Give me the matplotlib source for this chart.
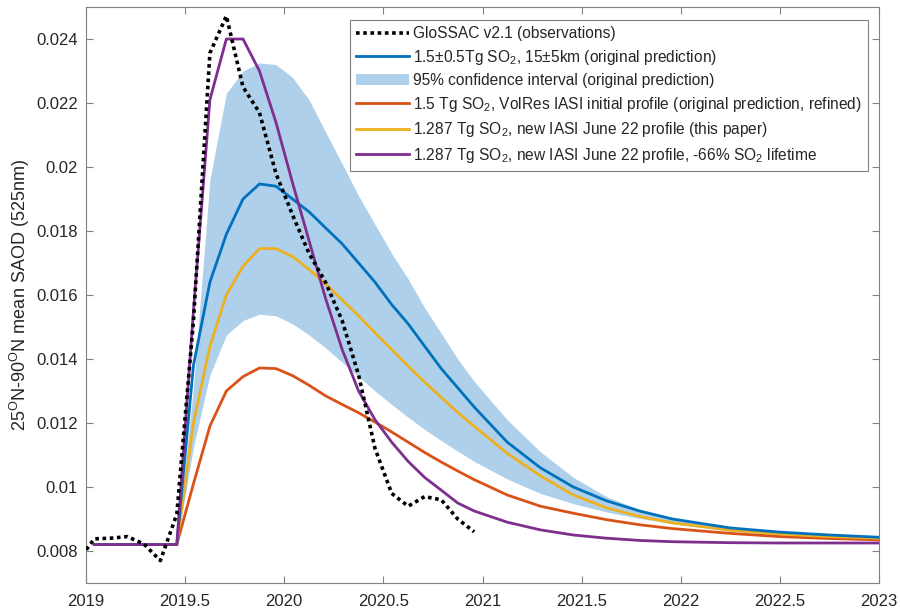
import matplotlib
matplotlib.use("Agg")
import matplotlib.pyplot as plt
from matplotlib.patches import Patch
from matplotlib.lines import Line2D

plt.rcParams['font.family'] = ['Liberation Sans', 'DejaVu Sans']
plt.rcParams['mathtext.fontset'] = 'custom'
plt.rcParams['mathtext.rm'] = 'Liberation Sans'
plt.rcParams['mathtext.it'] = 'Liberation Sans:italic'

# ---- observations (GloSSAC v2.1, monthly) ----
obs_t = [2018.958, 2019.042, 2019.125, 2019.208, 2019.292, 2019.375, 2019.458,
         2019.542, 2019.625, 2019.708, 2019.792, 2019.875, 2019.958, 2020.042,
         2020.125, 2020.208, 2020.292, 2020.375, 2020.458, 2020.542, 2020.625,
         2020.708, 2020.792, 2020.875, 2020.958]
obs_v = [0.00768, 0.00838, 0.00840, 0.00845, 0.00822, 0.00770, 0.00915,
         0.0152, 0.02356, 0.02472, 0.0225, 0.0217, 0.0198, 0.0185,
         0.0173, 0.0164, 0.0152, 0.0135, 0.0112, 0.0098, 0.0094,
         0.0097, 0.0096, 0.0090, 0.0086]

# ---- model time axis ----
model_t = [2019.042, 2019.458, 2019.542, 2019.625, 2019.708, 2019.792, 2019.875,
           2019.958, 2020.042, 2020.125, 2020.208, 2020.292, 2020.375, 2020.458,
           2020.542, 2020.625, 2020.708, 2020.792, 2020.875, 2020.958, 2021.125,
           2021.292, 2021.458, 2021.625, 2021.792, 2021.958, 2022.25, 2022.5,
           2022.75, 2023.0]

orig_pred = [0.0082, 0.0082, 0.0138, 0.0164, 0.0179, 0.0190, 0.01947,
             0.0194, 0.0190, 0.0186, 0.0181, 0.0176, 0.0170, 0.0164,
             0.0157, 0.0151, 0.0144, 0.0137, 0.0131, 0.0125, 0.0114,
             0.0106, 0.0100, 0.00957, 0.00925, 0.0090, 0.00872, 0.00859,
             0.0085, 0.00843]
ci_upper = [0.0082, 0.0082, 0.0131, 0.0196, 0.0223, 0.0230, 0.02325,
            0.0232, 0.0228, 0.0221, 0.0211, 0.0201, 0.0191, 0.0182,
            0.0173, 0.0165, 0.0156, 0.0148, 0.0140, 0.0133, 0.0121,
            0.0111, 0.0103, 0.0097, 0.0093, 0.0090, 0.0087, 0.00857,
            0.0085, 0.00844]
ci_lower = [0.0082, 0.0082, 0.01125, 0.0135, 0.01475, 0.0152, 0.0154,
            0.01535, 0.0151, 0.01475, 0.01435, 0.0139, 0.01345, 0.0130,
            0.01258, 0.01218, 0.0118, 0.01145, 0.01112, 0.0108, 0.01025,
            0.0098, 0.00948, 0.00922, 0.00902, 0.00885, 0.00862, 0.00849,
            0.00842, 0.00838]
volres = [0.0082, 0.0082, 0.0101, 0.0119, 0.0130, 0.01345, 0.01372,
          0.0137, 0.01348, 0.01318, 0.01285, 0.01258, 0.01232, 0.01203,
          0.01172, 0.0114, 0.01108, 0.01078, 0.0105, 0.01023, 0.00975,
          0.0094, 0.00918, 0.00898, 0.00882, 0.0087, 0.00855, 0.00845,
          0.00839, 0.00835]
this_paper = [0.0082, 0.0082, 0.0120, 0.0144, 0.0160, 0.0169, 0.01745,
              0.01745, 0.0172, 0.0168, 0.01635, 0.01585, 0.01535, 0.01482,
              0.0143, 0.01378, 0.01328, 0.0128, 0.01233, 0.0119, 0.01105,
              0.01035, 0.00975, 0.00935, 0.00908, 0.00888, 0.00865, 0.00853,
              0.00845, 0.0084]
short_life = [0.0082, 0.0082, 0.0155, 0.0221, 0.0240, 0.0240, 0.0230,
              0.0214, 0.0195, 0.0177, 0.0159, 0.0143, 0.0130, 0.0121,
              0.0114, 0.0108, 0.0103, 0.0099, 0.0095, 0.00925, 0.0089,
              0.00866, 0.0085, 0.0084, 0.00833, 0.00829, 0.00826, 0.00825,
              0.00825, 0.00825]

labels = ['GloSSAC v2.1 (observations)',
          r'1.5$\pm$0.5Tg SO$_2$, 15$\pm$5km (original prediction)',
          '95% confidence interval (original prediction)',
          r'1.5 Tg SO$_2$, VolRes IASI initial profile (original prediction, refined)',
          r'1.287 Tg SO$_2$, new IASI June 22 profile (this paper)',
          r'1.287 Tg SO$_2$, new IASI June 22 profile, -66% SO$_2$ lifetime']

x_ticks = [2019, 2019.5, 2020, 2020.5, 2021, 2021.5, 2022, 2022.5, 2023]
x_ticklabels = ['2019', '2019.5', '2020', '2020.5', '2021', '2021.5', '2022', '2022.5', '2023']
y_ticks = [0.008, 0.010, 0.012, 0.014, 0.016, 0.018, 0.020, 0.022, 0.024]
y_ticklabels = ['0.008', '0.01', '0.012', '0.014', '0.016', '0.018', '0.02', '0.022', '0.024']

c_blue = '#0072BD'
c_orange = '#D95319'
c_yellow = '#EDB120'
c_purple = '#7E2F8E'
c_band = '#AED0EA'
c_text = '#262626'
c_axis = '#808080'

fig = plt.figure(figsize=(9, 6.15), dpi=100)
ax = fig.add_axes([86 / 900, 32 / 615, 793 / 900, 576 / 615])

ax.fill_between(model_t, ci_lower, ci_upper, color=c_band, linewidth=0, zorder=1)
ax.plot(model_t, volres, color=c_orange, lw=2.0, zorder=3)
ax.plot(model_t, this_paper, color=c_yellow, lw=2.0, zorder=3)
ax.plot(model_t, orig_pred, color=c_blue, lw=2.0, zorder=4)
ax.plot(model_t, short_life, color=c_purple, lw=2.0, zorder=5)
ax.plot(obs_t, obs_v, color='black', lw=2.6, ls=(0, (1, 1)), zorder=6)

ax.set_xlim(2019, 2023)
ax.set_ylim(0.007, 0.025)
ax.set_xticks(x_ticks)
ax.set_xticklabels(x_ticklabels)
ax.set_yticks(y_ticks)
ax.set_yticklabels(y_ticklabels)
ax.tick_params(direction='in', top=True, right=True, length=5, width=0.8,
               labelsize=12, labelcolor=c_text, color=c_axis)
ax.tick_params(axis='x', pad=8)
ax.tick_params(axis='y', pad=6)
for s in ax.spines.values():
    s.set_color(c_axis)
    s.set_linewidth(0.8)

ax.set_ylabel(r'25$^{\mathrm{O}}$N-90$^{\mathrm{O}}$N mean SAOD (525nm)',
              fontsize=13, color=c_text, labelpad=3)

handles = [Line2D([], [], color='black', lw=2.6, ls=(0, (1, 1))),
           Line2D([], [], color=c_blue, lw=2.0),
           Patch(facecolor=c_band, edgecolor='none'),
           Line2D([], [], color=c_orange, lw=2.0),
           Line2D([], [], color=c_yellow, lw=2.0),
           Line2D([], [], color=c_purple, lw=2.0)]
leg = ax.legend(handles, labels, loc='upper right',
                bbox_to_anchor=((868 - 86) / 793, (583 - 20) / 576),
                fontsize=11.2, frameon=True, fancybox=False, framealpha=1,
                edgecolor=c_axis, handlelength=3.4, handletextpad=0.25,
                labelspacing=0.42, borderpad=0.4, borderaxespad=0)
leg.get_frame().set_linewidth(0.8)
for t in leg.get_texts():
    t.set_color(c_text)

fig.savefig('out.png', dpi=100)
